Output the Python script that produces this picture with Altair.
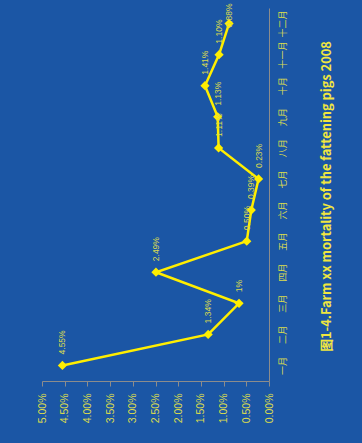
import altair as alt
import pandas as pd

months = ["一月", "二月", "三月", "四月", "五月", "六月", "七月", "八月", "九月", "十月", "十一月", "十二月"]
values = [4.55, 1.34, 0.66, 2.49, 0.49, 0.39, 0.23, 1.11, 1.13, 1.41, 1.10, 0.88]
labels = ["4.55%", "1.34%", "1%", "2.49%", "0.50%", "0.39%", "0.23%", "1.11%", "1.13%", "1.41%", "1.10%", "0.88%"]
tick_values = [0.0, 0.005, 0.01, 0.015, 0.02, 0.025, 0.03, 0.035, 0.04, 0.045, 0.05]
title_text = "图1-4.Farm xx mortality of the fattening pigs 2008"

df = pd.DataFrame({"month": months, "rate": [v / 100 for v in values], "label": labels})

BG = "#1b56a5"
TXT = "#dcdc4e"
LINE = "#ffee00"
GRAY = "#8c8c8c"
FONT = "Liberation Sans"

x = alt.X(
    "rate:Q",
    scale=alt.Scale(domain=[0, 0.05], reverse=True, nice=False),
    axis=alt.Axis(
        values=tick_values, format=".2%", labelAngle=270, labelAlign="right",
        labelBaseline="middle", labelFontSize=10.5, labelColor=TXT, labelFont=FONT,
        tickColor=GRAY, domainColor=GRAY, tickSize=5, labelPadding=7,
        grid=False, title=None, orient="bottom",
    ),
)
y = alt.Y(
    "month:N",
    sort=months[::-1],
    axis=alt.Axis(
        orient="right", labelAngle=270, labelAlign="center", labelBaseline="middle",
        labelFontSize=9, labelColor=TXT, labelFont="Noto Sans CJK SC",
        ticks=False, tickSize=0, labelPadding=13, domainColor=GRAY,
        title=title_text, titleAngle=270, titleAlign="center", titleBaseline="middle",
        titleX=57, titleY=188, titleFontSize=12.8, titleFont="Noto Sans CJK SC",
        titleFontWeight="bold", titleColor="#f0e640",
    ),
)

base = alt.Chart(df).encode(x=x, y=y)
line = base.mark_line(color=LINE, strokeWidth=2.5)
pts = base.mark_point(shape="diamond", filled=True, color=LINE, size=85, opacity=1)
txt = base.mark_text(
    angle=270, align="left", baseline="middle", dx=11, fontSize=8.5, color=TXT, font=FONT
).encode(text="label:N").transform_filter(alt.datum.month != "十二月")
txt_last = base.mark_text(
    angle=270, align="left", baseline="middle", dx=-4, fontSize=8.5, color=TXT, font=FONT
).encode(text="label:N").transform_filter(alt.datum.month == "十二月")

chart = (
    alt.layer(line, pts, txt, txt_last)
    .properties(
        width=227, height=373, background=BG,
        padding={"left": 42, "top": 8, "right": 93, "bottom": 62},
        autosize=alt.AutoSizeParams(type="none"),
    )
    .configure_view(stroke=None)
)

chart.save("out.html", embed_options={"renderer": "svg", "actions": False})
